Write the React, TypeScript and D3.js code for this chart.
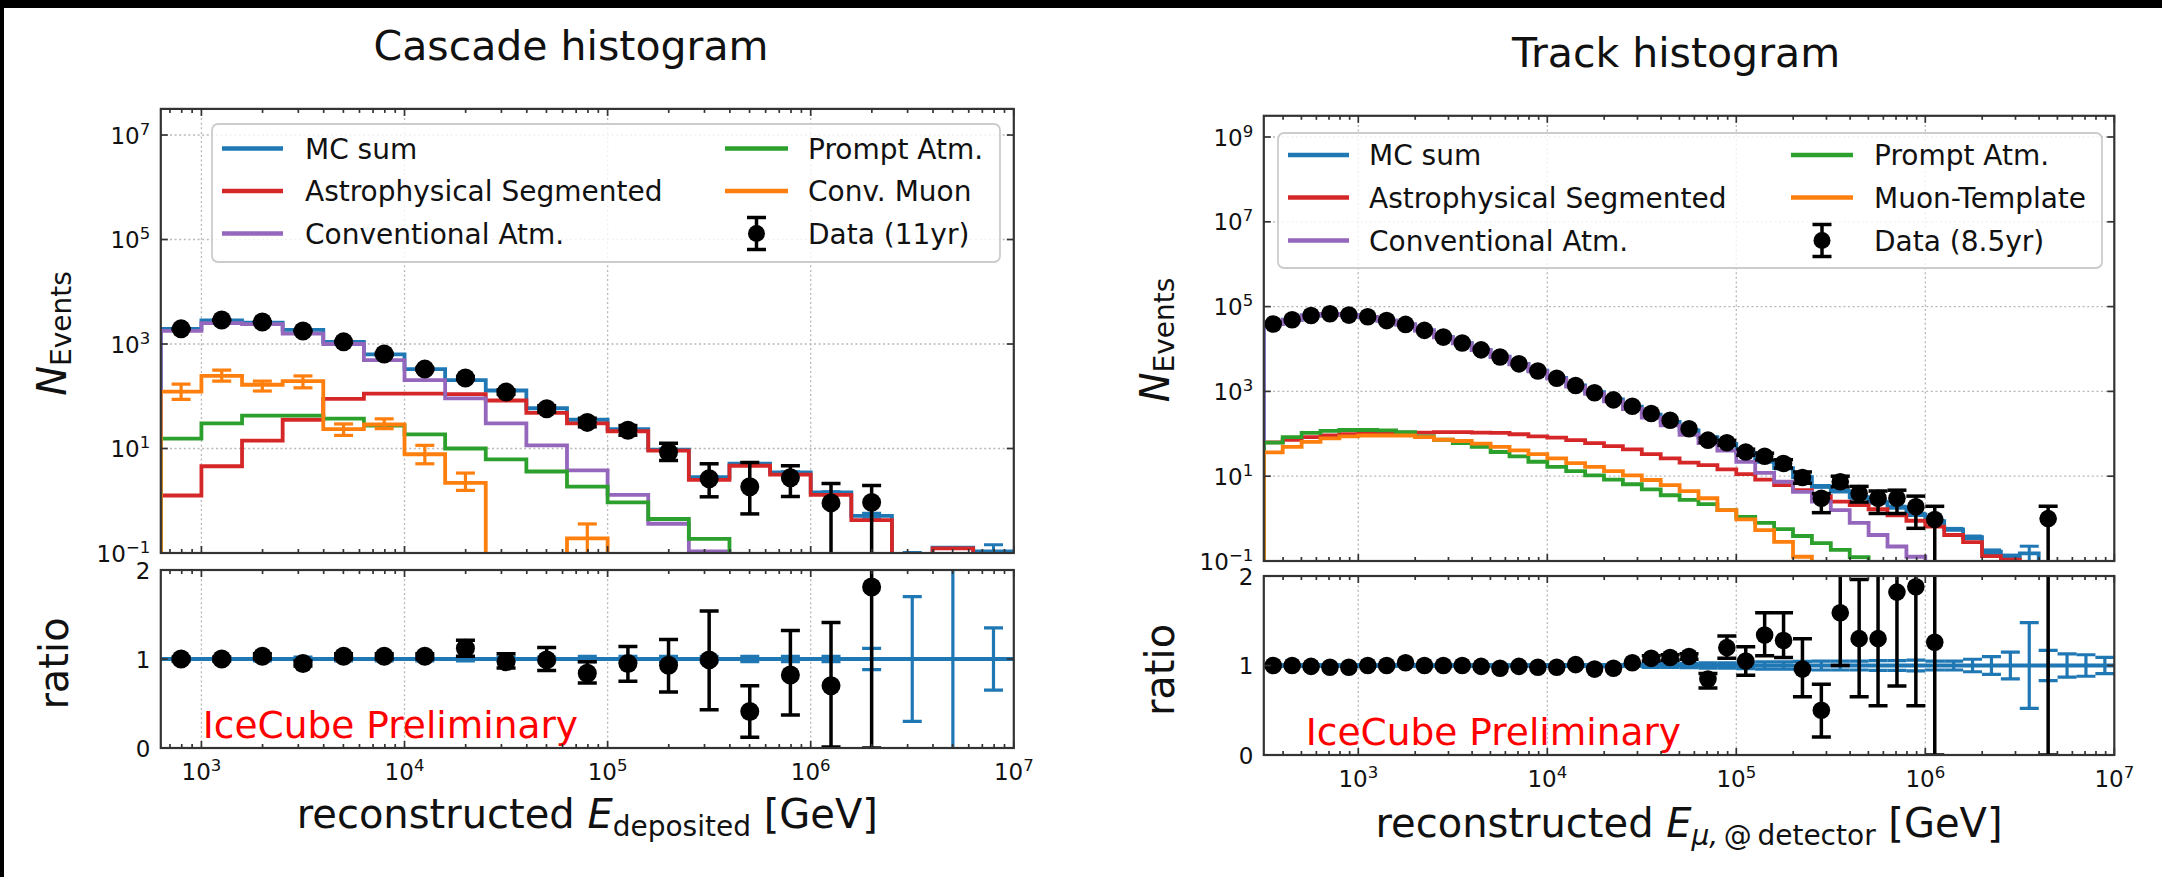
import React from "react";
import * as d3 from "d3";

const W = 2162;
const H = 877;
const FONT = "'DejaVu Sans', 'Liberation Sans', sans-serif";

const MC_COLOR = "#1f77b4";
const ASTRO_COLOR = "#d62728";
const CONV_COLOR = "#9467bd";
const PROMPT_COLOR = "#2ca02c";
const MUON_COLOR = "#ff7f0e";

type Num = number | null;

// ---------------- Cascade sample: 21 bins of 0.2 in log10(E/GeV), 10^2.8 .. 10^7 ----------------
const cascadeLogEdges = d3.range(22).map((i) => 2.8 + 0.2 * i);

const cascadeMcSum = [1950, 2820, 2570, 1860, 1100, 631, 331, 204, 129, 58.9, 35.5, 23.4, 9.55, 2.82, 5.13, 3.47, 1.45, 0.513, 0.06, 0.126, 0.107];
const cascadeMcErr = [0.02, 0.02, 0.02, 0.02, 0.02, 0.02, 0.02, 0.02, 0.02, 0.02, 0.03, 0.03, 0.03, 0.03, 0.03, 0.03, 0.03, 0.12, 0.7, 1.5, 0.35];
const cascadeAstro = [1.26, 4.57, 14.1, 35.5, 89, 112, 112, 110, 83, 47.9, 30.2, 21.4, 9.1, 2.51, 4.68, 3.16, 1.29, 0.427, 0, 0.123, 0];
const cascadeConv = [1780, 2510, 2400, 1580, 1000, 490, 204, 91, 30.2, 11.5, 3.8, 1.29, 0.363, 0.107, 0, 0, 0, 0, 0, 0, 0];
const cascadePrompt = [15.5, 30.2, 42.7, 42.7, 37.2, 27.5, 18.6, 10, 6.17, 3.63, 1.86, 0.93, 0.447, 0.186, 0, 0, 0, 0, 0, 0, 0];
const cascadeMuon = [123, 245, 166, 195, 23.4, 28.8, 7.76, 2.19, 0, 0, 0.19, 0, 0, 0, 0, 0, 0, 0, 0, 0, 0];
const cascadeMuonLo: Num[] = [87, 195, 126, 145, 17.8, 24, 5.1, 1.58, null, null, 0, null, null, null, null, null, null, null, null, null, null];
const cascadeMuonHi: Num[] = [170, 316, 195, 245, 29.5, 37, 11.5, 3.39, null, null, 0.36, null, null, null, null, null, null, null, null, null, null];

const cascadeData: Num[] = [1950, 2880, 2630, 1780, 1100, 646, 331, 224, 120, 57.5, 31.6, 22.4, 8.5, 2.63, 1.86, 2.75, 0.91, 0.93];
const cascadeDataLo: Num[] = [1910, 2830, 2580, 1740, 1070, 620, 315, 210, 110, 50, 26, 18, 5.9, 1.19, 0.56, 1.2, 0, 0];
const cascadeDataHi: Num[] = [1990, 2930, 2680, 1820, 1130, 670, 348, 239, 131, 66, 38, 27.5, 12.6, 5.1, 5.4, 4.7, 2.14, 1.95];

const cascadeRatio: Num[] = [1.0, 1.0, 1.03, 0.95, 1.03, 1.03, 1.03, 1.12, 0.97, 0.99, 0.84, 0.95, 0.93, 0.99, 0.41, 0.82, 0.7, 1.81];
const cascadeRatioLo: Num[] = [0.98, 0.98, 1.0, 0.92, 1.0, 1.0, 1.0, 1.03, 0.9, 0.87, 0.73, 0.75, 0.63, 0.43, 0.12, 0.37, 0.01, 0];
const cascadeRatioHi: Num[] = [1.02, 1.02, 1.06, 0.98, 1.06, 1.06, 1.06, 1.21, 1.06, 1.13, 0.97, 1.14, 1.22, 1.54, 0.7, 1.32, 1.41, 2.6];

// ---------------- Track sample: 45 bins of 0.1 in log10(E/GeV), 10^2.5 .. 10^7 ----------------
const trackLogEdges = d3.range(46).map((i) => 2.5 + 0.1 * i);

const trackMcSum = [38900, 49000, 61700, 67600, 63100, 57500, 46800, 38000, 27500, 19100, 13800, 9550, 6610, 4470, 3090, 2090, 1380, 955, 646, 437, 282, 191, 120, 83, 57.5, 35.5, 22.4, 15.5, 9.55, 5.75, 4.47, 3.16, 2.45, 1.86, 1.26, 0.87, 0.56, 0.363, 0.166, 0.12, 0.151, 0.05, 0.04, 0.03, 0.02];
const trackMcErr = [0.01, 0.01, 0.01, 0.01, 0.01, 0.01, 0.01, 0.01, 0.01, 0.01, 0.01, 0.01, 0.01, 0.01, 0.01, 0.01, 0.01, 0.01, 0.01, 0.01, 0.02, 0.02, 0.025, 0.03, 0.03, 0.035, 0.04, 0.04, 0.045, 0.05, 0.05, 0.05, 0.055, 0.055, 0.06, 0.05, 0.05, 0.07, 0.1, 0.15, 0.48, 0.17, 0.13, 0.12, 0.09];
const trackAstro = [63.1, 72.4, 83.2, 91.2, 97.7, 102, 105, 107, 107, 110, 110, 107, 105, 97.7, 87.1, 81.3, 70.8, 60.3, 51.3, 42.7, 33.1, 26.3, 20.9, 18.2, 14.5, 11.2, 8.32, 6.17, 4.68, 3.39, 2.51, 2.09, 1.66, 1.2, 0.89, 0.65, 0.41, 0.28, 0.13, 0.107, 0, 0, 0, 0, 0];
const trackConv = [38700, 48800, 61500, 67400, 62900, 57300, 46600, 37800, 27300, 18900, 13600, 9400, 6480, 4360, 2990, 2000, 1300, 880, 580, 385, 240, 158, 95, 60, 40, 21.9, 12, 7.4, 4.27, 2.51, 1.58, 0.79, 0.41, 0.22, 0.126, 0, 0, 0, 0, 0, 0, 0, 0, 0, 0];
const trackPrompt = [61.7, 83.2, 105, 117, 123, 123, 120, 110, 87.1, 72.4, 60.3, 49, 37.2, 29.5, 21.9, 16.6, 13.2, 10.5, 8.32, 6.46, 4.9, 3.55, 2.75, 2.19, 1.58, 1.1, 0.794, 0.562, 0.389, 0.263, 0.182, 0.123, 0, 0, 0, 0, 0, 0, 0, 0, 0, 0, 0, 0, 0];
const trackMuon = [36.3, 49, 64.6, 77.6, 87.1, 91.2, 91.2, 91.2, 83.2, 72.4, 67.6, 58.9, 49, 40.7, 33.1, 26.3, 20.4, 16.6, 13.2, 10.5, 8.13, 6.17, 4.47, 3.02, 1.58, 0.955, 0.537, 0.282, 0.126, 0, 0, 0, 0, 0, 0, 0, 0, 0, 0, 0, 0, 0, 0, 0, 0];

const trackData: Num[] = [38900, 49000, 61700, 67600, 63100, 57500, 46800, 38000, 27500, 19100, 13800, 9550, 6460, 4470, 3020, 2040, 1380, 933, 631, 447, 302, 209, 132, 70.8, 61.7, 37.2, 29.5, 20, 9.33, 3.02, 7.41, 3.89, 3.02, 3.02, 1.91, 0.955, null, null, null, null, null, 1.0, null, null, null];
const trackDataLo: Num[] = [null, null, null, null, null, null, null, null, null, null, null, null, null, null, null, null, null, null, null, null, null, null, null, 62.6, 53.8, 31.1, 24.1, 15.5, 6.8, 1.38, 5.6, 2.45, 1.32, 1.32, 0.59, 0, null, null, null, null, null, 0, null, null, null];
const trackDataHi: Num[] = [null, null, null, null, null, null, null, null, null, null, null, null, null, null, null, null, null, null, null, null, null, null, null, 79.2, 69.6, 43.3, 34.9, 24.5, 12.6, 3.89, 10, 5.75, 4.47, 4.68, 3.39, 1.95, null, null, null, null, null, 1.95, null, null, null];

const trackRatio: Num[] = [1.0, 1.0, 0.99, 0.98, 0.98, 1.0, 1.0, 1.03, 1.0, 1.0, 1.0, 0.99, 0.97, 0.99, 0.98, 0.98, 1.01, 0.96, 0.97, 1.03, 1.08, 1.09, 1.1, 0.85, 1.2, 1.05, 1.34, 1.28, 0.96, 0.5, 1.59, 1.3, 1.3, 1.82, 1.88, 1.26, null, null, null, null, null, 20, null, null, null];
const trackRatioLo: Num[] = [null, null, null, null, null, null, null, null, null, null, null, null, null, null, null, null, null, null, null, null, 1.05, 1.06, 1.07, 0.75, 1.08, 0.89, 1.11, 1.09, 0.65, 0.2, 1.0, 0.65, 0.55, 0.77, 0.55, 0, null, null, null, null, null, 0, null, null, null];
const trackRatioHi: Num[] = [null, null, null, null, null, null, null, null, null, null, null, null, null, null, null, null, null, null, null, null, 1.11, 1.12, 1.13, 0.91, 1.33, 1.21, 1.59, 1.59, 1.3, 0.79, 2.3, 1.96, 2.2, 2.6, 2.6, 2.5, null, null, null, null, null, 40, null, null, null];

// ---------------- Panel description ----------------
interface PanelSpec {
  id: string;
  title: string;
  titleX: number;
  titleY: number;
  logEdges: number[];
  xMinLog: number;
  yMaxLog: number;
  yTickExps: number[];
  left: number;
  right: number;
  mainTop: number;
  mainBottom: number;
  ratioTop: number;
  ratioBottom: number;
  mcSum: number[];
  mcErr: number[];
  astro: number[];
  conv: number[];
  prompt: number[];
  muon: number[];
  muonLo?: Num[];
  muonHi?: Num[];
  data: Num[];
  dataLo: Num[];
  dataHi: Num[];
  ratio: Num[];
  ratioLo: Num[];
  ratioHi: Num[];
  markerR: number;
  legendLabels: string[];
  legendBox: [number, number, number, number];
  legendCols: [number, number, number][];
  legendRows: number[];
  yLabelX: number;
  yLabelY: number;
  ratioLabelX: number;
  ratioLabelY: number;
  xLabelY: number;
  xLabelSub: React.ReactNode;
}

const cascadeSpec: PanelSpec = {
  id: "cascade",
  title: "Cascade histogram",
  titleX: 571,
  titleY: 60,
  logEdges: cascadeLogEdges,
  xMinLog: 2.8,
  yMaxLog: 7.5,
  yTickExps: [-1, 1, 3, 5, 7],
  left: 160.8,
  right: 1013.8,
  mainTop: 108.9,
  mainBottom: 553,
  ratioTop: 570,
  ratioBottom: 748,
  mcSum: cascadeMcSum,
  mcErr: cascadeMcErr,
  astro: cascadeAstro,
  conv: cascadeConv,
  prompt: cascadePrompt,
  muon: cascadeMuon,
  muonLo: cascadeMuonLo,
  muonHi: cascadeMuonHi,
  data: cascadeData,
  dataLo: cascadeDataLo,
  dataHi: cascadeDataHi,
  ratio: cascadeRatio,
  ratioLo: cascadeRatioLo,
  ratioHi: cascadeRatioHi,
  markerR: 9.5,
  legendLabels: ["MC sum", "Astrophysical Segmented", "Conventional Atm.", "Prompt Atm.", "Conv. Muon", "Data (11yr)"],
  legendBox: [212, 124, 788, 138],
  legendCols: [
    [222, 283, 305],
    [725, 788, 808],
  ],
  legendRows: [148.5, 191, 233.5],
  yLabelX: 66,
  yLabelY: 333.5,
  ratioLabelX: 68,
  ratioLabelY: 663.5,
  xLabelY: 828,
  xLabelSub: "deposited",
};

const trackSpec: PanelSpec = {
  id: "track",
  title: "Track histogram",
  titleX: 1676,
  titleY: 67,
  logEdges: trackLogEdges,
  xMinLog: 2.5,
  yMaxLog: 9.5,
  yTickExps: [-1, 1, 3, 5, 7, 9],
  left: 1263.8,
  right: 2114.3,
  mainTop: 115.8,
  mainBottom: 561,
  ratioTop: 576,
  ratioBottom: 755,
  mcSum: trackMcSum,
  mcErr: trackMcErr,
  astro: trackAstro,
  conv: trackConv,
  prompt: trackPrompt,
  muon: trackMuon,
  data: trackData,
  dataLo: trackDataLo,
  dataHi: trackDataHi,
  ratio: trackRatio,
  ratioLo: trackRatioLo,
  ratioHi: trackRatioHi,
  markerR: 8.8,
  legendLabels: ["MC sum", "Astrophysical Segmented", "Conventional Atm.", "Prompt Atm.", "Muon-Template", "Data (8.5yr)"],
  legendBox: [1278, 133, 824, 135],
  legendCols: [
    [1288, 1349, 1369],
    [1791, 1853, 1874],
  ],
  legendRows: [155, 197.5, 240.5],
  yLabelX: 1169,
  yLabelY: 340,
  ratioLabelX: 1174,
  ratioLabelY: 670,
  xLabelY: 837,
  xLabelSub: (
    <>
      <tspan fontStyle="italic">μ,</tspan>
      {"\u2009@\u2009detector"}
    </>
  ),
};

// ---------------- Drawing helpers ----------------
const CAP = 9.5;

function ErrBar({ x, y1, y2, color, width }: { x: number; y1: number; y2: number; color: string; width: number }) {
  return (
    <g stroke={color} strokeWidth={width}>
      <line x1={x} x2={x} y1={y1} y2={y2} />
      <line x1={x - CAP} x2={x + CAP} y1={y1} y2={y1} />
      <line x1={x - CAP} x2={x + CAP} y1={y2} y2={y2} />
    </g>
  );
}

function supLabel(exp: number, fs: number) {
  const s = exp < 0 ? "\u2212" + Math.abs(exp) : String(exp);
  return (
    <>
      {"10"}
      <tspan dy={-9} fontSize={fs * 0.72}>
        {s}
      </tspan>
    </>
  );
}

function Panel({ s }: { s: PanelSpec }) {
  const x = d3.scaleLog().domain([10 ** s.xMinLog, 1e7]).range([s.left, s.right]);
  const y = d3.scaleLog().domain([0.1, 10 ** s.yMaxLog]).range([s.mainBottom, s.mainTop]);
  const yr = d3.scaleLinear().domain([0, 2]).range([s.ratioBottom, s.ratioTop]);

  const edges = s.logEdges.map((e) => 10 ** e);
  const centers = edges.slice(0, -1).map((e, i) => Math.sqrt(e * edges[i + 1]));
  const off = s.mainBottom + 60;
  const yv = (v: number) => (v > 0 ? y(v) : off);

  // histtype="step" outline: rises from the bottom, follows every bin, falls back at the end
  const step = (vals: number[]) => {
    let d = `M${x(edges[0])},${off}`;
    vals.forEach((v, i) => {
      d += `L${x(edges[i])},${yv(v)}L${x(edges[i + 1])},${yv(v)}`;
    });
    d += `L${x(edges[vals.length])},${off}`;
    return d;
  };

  const xTicks = x.ticks();
  const isMajor = (t: number) => Math.abs(Math.log10(t) - Math.round(Math.log10(t))) < 1e-6;
  const majors = xTicks.filter(isMajor);
  const minors = xTicks.filter((t) => !isMajor(t));
  const innerMajors = majors.filter((t) => x(t) > s.left + 1 && x(t) < s.right - 1);

  const mainClip = `${s.id}-main-clip`;
  const ratioClip = `${s.id}-ratio-clip`;
  const width = s.right - s.left;
  const spine = "#333";
  const lineW = 3.8;
  const tickFs = 23;
  const labelFs = 40;

  const xTickMarks = (top: number, bottom: number) => (
    <g stroke={spine} strokeWidth={1.7}>
      {majors.map((t) => (
        <g key={`M${t}`}>
          <line x1={x(t)} x2={x(t)} y1={bottom} y2={bottom - 7} />
          <line x1={x(t)} x2={x(t)} y1={top} y2={top + 7} />
        </g>
      ))}
      {minors.map((t) => (
        <g key={`m${t}`}>
          <line x1={x(t)} x2={x(t)} y1={bottom} y2={bottom - 4} />
          <line x1={x(t)} x2={x(t)} y1={top} y2={top + 4} />
        </g>
      ))}
    </g>
  );

  const vGrid = (top: number, bottom: number) => (
    <g stroke="#b8b8b8" strokeWidth={1.3} strokeDasharray="2 2.6">
      {innerMajors.map((t) => (
        <line key={t} x1={x(t)} x2={x(t)} y1={top} y2={bottom} />
      ))}
    </g>
  );

  const components: [number[], string][] = [
    [s.astro, ASTRO_COLOR],
    [s.conv, CONV_COLOR],
    [s.prompt, PROMPT_COLOR],
    [s.muon, MUON_COLOR],
  ];
  const legendColors = [MC_COLOR, ASTRO_COLOR, CONV_COLOR, PROMPT_COLOR, MUON_COLOR];

  return (
    <g>
      <defs>
        <clipPath id={mainClip}>
          <rect x={s.left} y={s.mainTop} width={width} height={s.mainBottom - s.mainTop} />
        </clipPath>
        <clipPath id={ratioClip}>
          <rect x={s.left} y={s.ratioTop} width={width} height={s.ratioBottom - s.ratioTop} />
        </clipPath>
      </defs>

      <text x={s.titleX} y={s.titleY} textAnchor="middle" fontSize={41} fill="#111">
        {s.title}
      </text>

      {/* ===== event-count histogram ===== */}
      <rect x={s.left} y={s.mainTop} width={width} height={s.mainBottom - s.mainTop} fill="#fff" />
      {vGrid(s.mainTop, s.mainBottom)}
      <g stroke="#b8b8b8" strokeWidth={1.3} strokeDasharray="2 2.6">
        {s.yTickExps
          .filter((e) => e > -1)
          .map((e) => (
            <line key={e} x1={s.left} x2={s.right} y1={y(10 ** e)} y2={y(10 ** e)} />
          ))}
      </g>

      <g clipPath={`url(#${mainClip})`}>
        <path d={step(s.mcSum)} fill="none" stroke={MC_COLOR} strokeWidth={lineW} />
        {s.mcSum.map((v, i) => {
          const e = s.mcErr[i];
          if (!(v > 0) || 1 - e <= 0) return null;
          return <ErrBar key={`mce${i}`} x={x(centers[i])} y1={y(v * (1 - e))} y2={y(v * (1 + e))} color={MC_COLOR} width={3} />;
        })}
        {components.map(([vals, c], k) => (
          <path key={k} d={step(vals)} fill="none" stroke={c} strokeWidth={lineW} />
        ))}
        {s.muonLo &&
          s.muonHi &&
          s.muon.map((v, i) => {
            const lo = s.muonLo![i];
            const hi = s.muonHi![i];
            if (lo === null || hi === null) return null;
            return <ErrBar key={`mu${i}`} x={x(centers[i])} y1={lo > 0 ? y(lo) : off} y2={y(hi)} color={MUON_COLOR} width={3.2} />;
          })}
        {s.data.map((v, i) => {
          const lo = s.dataLo[i];
          const hi = s.dataHi[i];
          if (v === null || lo === null || hi === null) return null;
          return <ErrBar key={`de${i}`} x={x(centers[i])} y1={lo > 0 ? y(lo) : off} y2={y(hi)} color="#000" width={3.5} />;
        })}
        {s.data.map((v, i) =>
          v === null ? null : <circle key={`d${i}`} cx={x(centers[i])} cy={y(v)} r={s.markerR} fill="#000" />
        )}
      </g>

      {/* legend */}
      <g>
        <rect
          x={s.legendBox[0]}
          y={s.legendBox[1]}
          width={s.legendBox[2]}
          height={s.legendBox[3]}
          rx={6}
          fill="#fff"
          fillOpacity={0.8}
          stroke="#cccccc"
          strokeWidth={1.8}
        />
        {s.legendLabels.map((lab, k) => {
          const col = s.legendCols[Math.floor(k / 3)];
          const ry = s.legendRows[k % 3];
          const isData = k === 5;
          const hx = (col[0] + col[1]) / 2;
          return (
            <g key={lab}>
              {isData ? (
                <g>
                  <ErrBar x={hx} y1={ry - 16} y2={ry + 16} color="#000" width={3.5} />
                  <circle cx={hx} cy={ry} r={8.5} fill="#000" />
                </g>
              ) : (
                <line x1={col[0]} x2={col[1]} y1={ry} y2={ry} stroke={legendColors[k]} strokeWidth={4.5} />
              )}
              <text x={col[2]} y={ry + 10} fontSize={28} fill="#111">
                {lab}
              </text>
            </g>
          );
        })}
      </g>

      <rect x={s.left} y={s.mainTop} width={width} height={s.mainBottom - s.mainTop} fill="none" stroke={spine} strokeWidth={2.2} />
      {xTickMarks(s.mainTop, s.mainBottom)}
      <g stroke={spine} strokeWidth={1.7}>
        {s.yTickExps.map((e) => (
          <g key={e}>
            <line x1={s.left} x2={s.left + 7} y1={y(10 ** e)} y2={y(10 ** e)} />
            <line x1={s.right} x2={s.right - 7} y1={y(10 ** e)} y2={y(10 ** e)} />
          </g>
        ))}
      </g>
      <g fontSize={tickFs} fill="#111" textAnchor="end">
        {s.yTickExps.map((e) => (
          <text key={e} x={s.left - 10.5} y={y(10 ** e) + 8.5}>
            {supLabel(e, tickFs)}
          </text>
        ))}
      </g>

      <text transform={`translate(${s.yLabelX},${s.yLabelY}) rotate(-90)`} textAnchor="middle" fontSize={labelFs} fill="#111">
        <tspan fontStyle="italic">N</tspan>
        <tspan fontSize={labelFs * 0.7} dy={5}>
          Events
        </tspan>
      </text>

      {/* ===== data / MC ratio ===== */}
      <rect x={s.left} y={s.ratioTop} width={width} height={s.ratioBottom - s.ratioTop} fill="#fff" />
      {vGrid(s.ratioTop, s.ratioBottom)}
      <g clipPath={`url(#${ratioClip})`}>
        <line x1={s.left} x2={s.right} y1={yr(1)} y2={yr(1)} stroke={MC_COLOR} strokeWidth={4.2} />
        {s.mcErr.map((e, i) => (
          <ErrBar key={`re${i}`} x={x(centers[i])} y1={yr(1 - e)} y2={yr(1 + e)} color={MC_COLOR} width={3.2} />
        ))}
        {s.ratio.map((v, i) => {
          const lo = s.ratioLo[i];
          const hi = s.ratioHi[i];
          if (v === null || lo === null || hi === null) return null;
          return <ErrBar key={`rd${i}`} x={x(centers[i])} y1={yr(lo)} y2={yr(hi)} color="#000" width={3.5} />;
        })}
        {s.ratio.map((v, i) =>
          v === null ? null : <circle key={`rp${i}`} cx={x(centers[i])} cy={yr(v)} r={s.markerR} fill="#000" />
        )}
      </g>
      <text x={s.left + 42} y={s.ratioBottom - 10} fontSize={37.5} fill="#ff0000">
        IceCube Preliminary
      </text>
      <rect x={s.left} y={s.ratioTop} width={width} height={s.ratioBottom - s.ratioTop} fill="none" stroke={spine} strokeWidth={2.2} />
      {xTickMarks(s.ratioTop, s.ratioBottom)}
      <g stroke={spine} strokeWidth={1.7}>
        {[0, 1, 2].map((t) => (
          <g key={t}>
            <line x1={s.left} x2={s.left + 7} y1={yr(t)} y2={yr(t)} />
            <line x1={s.right} x2={s.right - 7} y1={yr(t)} y2={yr(t)} />
          </g>
        ))}
      </g>
      <g fontSize={tickFs} fill="#111" textAnchor="end">
        {[0, 1, 2].map((t) => (
          <text key={t} x={s.left - 10.5} y={yr(t) + 8.5}>
            {t}
          </text>
        ))}
      </g>
      <g fontSize={tickFs} fill="#111" textAnchor="middle">
        {majors.map((t) => (
          <text key={t} x={x(t)} y={s.ratioBottom + 32}>
            {supLabel(Math.round(Math.log10(t)), tickFs)}
          </text>
        ))}
      </g>

      <text transform={`translate(${s.ratioLabelX},${s.ratioLabelY}) rotate(-90)`} textAnchor="middle" fontSize={labelFs} fill="#111">
        ratio
      </text>

      <text x={(s.left + s.right) / 2} y={s.xLabelY} textAnchor="middle" fontSize={labelFs} fill="#111">
        {"reconstructed "}
        <tspan fontStyle="italic">E</tspan>
        <tspan fontSize={labelFs * 0.7} dy={8}>
          {s.xLabelSub}
        </tspan>
        <tspan dy={-8}>{" [GeV]"}</tspan>
      </text>
    </g>
  );
}

export default function App() {
  return (
    <svg
      width={W}
      height={H}
      viewBox={`0 0 ${W} ${H}`}
      style={{ position: "absolute", left: 0, top: 0, display: "block" }}
      fontFamily={FONT}
    >
      <rect x={0} y={0} width={W} height={H} fill="#fff" />
      <rect x={0} y={0} width={W} height={8} fill="#000" />
      <rect x={0} y={0} width={4} height={H} fill="#000" />
      <Panel s={cascadeSpec} />
      <Panel s={trackSpec} />
    </svg>
  );
}
